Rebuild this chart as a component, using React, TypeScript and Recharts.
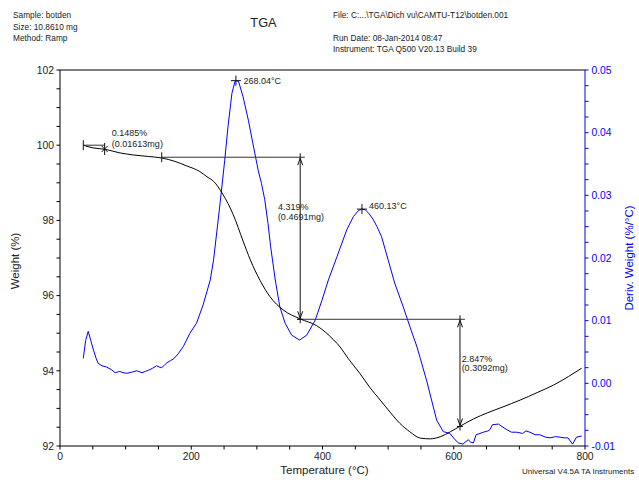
import React from 'react';
import { LineChart, Line, XAxis, YAxis, ReferenceLine, ReferenceDot } from 'recharts';

// ---- Weight (%) curve, black, left axis ----
const weightTemps = [35.5, 50, 69, 90, 112, 135, 155, 175, 193, 213, 224, 234, 248, 264, 279, 290, 305, 320, 340, 366, 391, 405, 417, 427, 439, 457, 472, 488, 503, 518, 533, 549, 564, 580, 595, 610, 630, 651, 675, 701, 727, 752, 775, 795];
const weightValues = [100.0, 99.93, 99.89, 99.8, 99.74, 99.7, 99.66, 99.57, 99.45, 99.3, 99.16, 99.04, 98.7, 98.15, 97.45, 96.95, 96.4, 95.97, 95.62, 95.38, 95.2, 95.02, 94.82, 94.63, 94.33, 93.93, 93.56, 93.22, 92.9, 92.6, 92.38, 92.21, 92.19, 92.25, 92.38, 92.53, 92.72, 92.88, 93.04, 93.22, 93.42, 93.62, 93.85, 94.07];

// ---- Deriv. Weight (%/°C) curve, blue, right axis ----
const derivTemps = [35.5, 39, 43, 47, 51, 55, 58, 64, 71, 78, 84, 91, 96, 102, 110, 117, 125, 130, 135, 141, 147, 151, 155, 159, 163, 168, 173, 180, 188, 198, 208, 218, 229, 234, 244, 251, 256, 262, 267, 272, 279, 287, 295, 302, 307, 312, 317, 321, 328, 335, 343, 353, 365, 376, 389, 399, 409, 422, 437, 447, 455, 460, 465, 470, 477, 483, 490, 500, 510, 523, 533, 544, 549, 559, 574, 584, 594, 602, 607, 614, 622, 626, 630, 634, 640, 645, 652, 655, 659, 668, 675, 681, 688, 696, 705, 710, 716, 724, 731, 740, 747, 755, 762, 768, 774, 781, 787, 795];
const derivValues = [0.004, 0.0068, 0.0083, 0.0068, 0.0053, 0.004, 0.0032, 0.0028, 0.0026, 0.0022, 0.0017, 0.0019, 0.0017, 0.0016, 0.0018, 0.002, 0.0017, 0.0019, 0.0021, 0.0024, 0.0028, 0.0026, 0.0025, 0.0029, 0.0033, 0.0036, 0.0039, 0.0047, 0.0059, 0.008, 0.0096, 0.0125, 0.0165, 0.0197, 0.0288, 0.0356, 0.041, 0.0463, 0.0483, 0.0482, 0.0457, 0.042, 0.0377, 0.034, 0.0319, 0.0293, 0.0255, 0.0218, 0.0165, 0.0122, 0.0096, 0.0077, 0.0069, 0.0077, 0.0101, 0.0132, 0.0165, 0.0202, 0.0245, 0.0266, 0.0276, 0.0278, 0.0277, 0.0272, 0.0262, 0.025, 0.0234, 0.0197, 0.016, 0.0122, 0.0091, 0.0058, 0.004, 0.0003, -0.0059, -0.0077, -0.008, -0.009, -0.0095, -0.0097, -0.009, -0.0094, -0.0095, -0.0082, -0.008, -0.0078, -0.0076, -0.0074, -0.0066, -0.0065, -0.007, -0.0074, -0.0078, -0.0078, -0.008, -0.0076, -0.0078, -0.0082, -0.0082, -0.0086, -0.0087, -0.0085, -0.0086, -0.0087, -0.0087, -0.0097, -0.0086, -0.0084];

// ---- Axes ticks ----
const tempTicks = [0, 50, 100, 150, 200, 250, 300, 350, 400, 450, 500, 550, 600, 650, 700, 750, 800];
const tempTickLabels = [0, 200, 400, 600, 800];
const weightTicks = [92, 92.5, 93, 93.5, 94, 94.5, 95, 95.5, 96, 96.5, 97, 97.5, 98, 98.5, 99, 99.5, 100, 100.5, 101, 101.5, 102];
const weightTickLabels = [92, 94, 96, 98, 100, 102];
const derivTicks = [-0.01, -0.0075, -0.005, -0.0025, 0, 0.0025, 0.005, 0.0075, 0.01, 0.0125, 0.015, 0.0175, 0.02, 0.0225, 0.025, 0.0275, 0.03, 0.0325, 0.035, 0.0375, 0.04, 0.0425, 0.045, 0.0475, 0.05];
const derivTickLabels = ['-0.01', '0.00', '0.01', '0.02', '0.03', '0.04', '0.05'];

// ---- Analysis annotations (data coordinates) ----
const step0 = { start: 35.5, end: 68, level: 100.0, pct: '0.1485%', mass: '(0.01613mg)', textT: 79, textW1: 100.32, textW2: 100.03 };
const step1 = { start: 155, end: 373, at: 366, top: 99.68, bottom: 95.37, pct: '4.319%', mass: '(0.4691mg)', textT: 332, textW1: 98.36, textW2: 98.09 };
const step2 = { start: 361, end: 617, at: 609.5, top: 95.37, bottom: 92.52, pct: '2.847%', mass: '(0.3092mg)', textT: 612, textW1: 94.33, textW2: 94.07 };
const peaks = [
  { t: 268.04, v: 0.0483, label: '268.04°C', textT: 279.5, textV: 0.0483 },
  { t: 460.13, v: 0.0278, label: '460.13°C', textT: 471, textV: 0.02835 },
];

const weightData = weightTemps.map((t, i) => ({ t, w: weightValues[i] }));
const derivData = derivTemps.map((t, i) => ({ t, d: derivValues[i] }));

const FONT = '"Liberation Sans", Arial, Helvetica, sans-serif';
const BLUE = '#0000ff';

const XTick = (props: any) => {
  const { x, y, payload } = props;
  const show = tempTickLabels.includes(payload.value);
  return (
    <g>
      <line x1={x} x2={x} y1={y} y2={y + 3.5} stroke="#000" />
      {show && (
        <text x={x} y={y + 14} textAnchor="middle" fontSize={10.3} fontFamily={FONT} fill="#222">
          {payload.value}
        </text>
      )}
    </g>
  );
};

const LeftTick = (props: any) => {
  const { x, y, payload } = props;
  const show = weightTickLabels.includes(payload.value);
  return (
    <g>
      <line x1={x - 3.5} x2={x} y1={y} y2={y} stroke="#000" />
      {show && (
        <text x={x - 6} y={y} dy="0.36em" textAnchor="end" fontSize={10.3} fontFamily={FONT} fill="#222">
          {payload.value}
        </text>
      )}
    </g>
  );
};

const RightTick = (props: any) => {
  const { x, y, payload } = props;
  const txt = (payload.value as number).toFixed(2);
  const major = Math.abs(payload.value * 100 - Math.round(payload.value * 100)) < 1e-6;
  return (
    <g>
      <line x1={x} x2={x + 3.5} y1={y} y2={y} stroke={BLUE} />
      {major && derivTickLabels.includes(txt) && (
        <text x={x + 6.5} y={y} dy="0.36em" textAnchor="start" fontSize={10.3} fontFamily={FONT} fill={BLUE}>
          {txt}
        </text>
      )}
    </g>
  );
};

const textShape = (text: string, color = '#222') => (p: any) => (
  <text x={p.cx} y={p.cy} dy="0.36em" fontSize={9} fontFamily={FONT} fill={color}>
    {text}
  </text>
);

const crossShape = (p: any) => (
  <g stroke="#111" strokeWidth={1}>
    <line x1={p.cx - 5} x2={p.cx + 5} y1={p.cy} y2={p.cy} />
    <line x1={p.cx} x2={p.cx} y1={p.cy - 5} y2={p.cy + 5} />
  </g>
);

const vTickShape = (p: any) => (
  <g stroke="#111" strokeWidth={1}>
    <line x1={p.cx} x2={p.cx} y1={p.cy - 5} y2={p.cy + 5} />
  </g>
);

const starShape = (p: any) => (
  <g stroke="#111" strokeWidth={1}>
    <line x1={p.cx} x2={p.cx} y1={p.cy - 6} y2={p.cy + 6} />
    <line x1={p.cx - 3} x2={p.cx + 3} y1={p.cy - 3} y2={p.cy + 3} />
    <line x1={p.cx - 3} x2={p.cx + 3} y1={p.cy + 3} y2={p.cy - 3} />
  </g>
);

const arrowUp = (p: any) => (
  <g stroke="#111" strokeWidth={1} fill="none">
    <polyline points={`${p.cx - 2.5},${p.cy + 8} ${p.cx},${p.cy + 1} ${p.cx + 2.5},${p.cy + 8}`} />
    <line x1={p.cx} x2={p.cx} y1={p.cy - 4} y2={p.cy} />
  </g>
);

const arrowDown = (p: any) => (
  <g stroke="#111" strokeWidth={1} fill="none">
    <polyline points={`${p.cx - 2.5},${p.cy - 8} ${p.cx},${p.cy - 1} ${p.cx + 2.5},${p.cy - 8}`} />
    <line x1={p.cx} x2={p.cx} y1={p.cy} y2={p.cy + 4} />
    <line x1={p.cx - 3} x2={p.cx + 3} y1={p.cy} y2={p.cy} />
  </g>
);

const leftTitle = (p: any) => {
  const vb = p.viewBox;
  const cx = vb.x + 19;
  const cy = vb.y + vb.height / 2 + 3;
  return (
    <text x={cx} y={cy} transform={`rotate(-90, ${cx}, ${cy})`} textAnchor="middle" fontSize={11.5} fontFamily={FONT} fill="#222">
      Weight (%)
    </text>
  );
};

const rightTitle = (p: any) => {
  const vb = p.viewBox;
  const cx = vb.x + 48;
  const cy = vb.y + vb.height / 2;
  return (
    <text x={cx} y={cy} transform={`rotate(-90, ${cx}, ${cy})`} textAnchor="middle" fontSize={11.5} fontFamily={FONT} fill={BLUE}>
      Deriv. Weight (%/°C)
    </text>
  );
};

const bottomTitle = (p: any) => {
  const vb = p.viewBox;
  return (
    <text x={vb.x + vb.width / 2 + 2} y={vb.y + vb.height - 6} textAnchor="middle" fontSize={11.5} fontFamily={FONT} fill="#222">
      Temperature (°C)
    </text>
  );
};

export default function App() {
  const hdr = { fontSize: 8.3, fontFamily: FONT, fill: '#222' } as const;
  return (
    <div style={{ position: 'absolute', left: 0, top: 0, width: 639, height: 480, background: '#fff', overflow: 'hidden' }}>
      <LineChart width={639} height={480} margin={{ top: 70, right: 0, bottom: 0, left: 0 }}>
        <XAxis
          xAxisId="x"
          type="number"
          dataKey="t"
          domain={[0, 800]}
          ticks={tempTicks}
          interval={0}
          height={34}
          tickSize={0}
          tickMargin={0}
          tickLine={false}
          tick={<XTick />}
          axisLine={{ stroke: '#000' }}
          allowDataOverflow
          label={{ content: bottomTitle }}
        />
        <YAxis
          yAxisId="left"
          orientation="left"
          type="number"
          domain={[92, 102]}
          ticks={weightTicks}
          interval={0}
          width={60}
          tickSize={0}
          tickMargin={0}
          tickLine={false}
          tick={<LeftTick />}
          axisLine={{ stroke: '#000' }}
          allowDataOverflow
          label={{ content: leftTitle }}
        />
        <YAxis
          yAxisId="right"
          orientation="right"
          type="number"
          domain={[-0.01, 0.05]}
          ticks={derivTicks}
          interval={0}
          width={54}
          tickSize={0}
          tickMargin={0}
          tickLine={false}
          tick={<RightTick />}
          axisLine={{ stroke: BLUE }}
          allowDataOverflow
          label={{ content: rightTitle }}
        />
        <ReferenceLine xAxisId="x" yAxisId="left" y={102} stroke="#000" />

        <Line
          xAxisId="x"
          yAxisId="right"
          data={derivData}
          dataKey="d"
          type="linear"
          stroke={BLUE}
          strokeWidth={1}
          dot={false}
          activeDot={false}
          isAnimationActive={false}
        />
        <Line
          xAxisId="x"
          yAxisId="left"
          data={weightData}
          dataKey="w"
          type="monotone"
          stroke="#000"
          strokeWidth={1}
          dot={false}
          activeDot={false}
          isAnimationActive={false}
        />

        {/* step 0 */}
        <ReferenceLine xAxisId="x" yAxisId="left" segment={[{ x: step0.start, y: step0.level }, { x: step0.end, y: step0.level }]} stroke="#333" ifOverflow="visible" />
        <ReferenceDot xAxisId="x" yAxisId="left" x={step0.start} y={step0.level} r={1} shape={vTickShape} ifOverflow="visible" />
        <ReferenceDot xAxisId="x" yAxisId="left" x={step0.end} y={99.9} r={1} shape={starShape} ifOverflow="visible" />
        <ReferenceDot xAxisId="x" yAxisId="left" x={step0.textT} y={step0.textW1} r={1} shape={textShape(step0.pct)} ifOverflow="visible" />
        <ReferenceDot xAxisId="x" yAxisId="left" x={step0.textT} y={step0.textW2} r={1} shape={textShape(step0.mass)} ifOverflow="visible" />

        {/* step 1 */}
        <ReferenceLine xAxisId="x" yAxisId="left" segment={[{ x: step1.start, y: step1.top }, { x: step1.end, y: step1.top }]} stroke="#333" ifOverflow="visible" />
        <ReferenceLine xAxisId="x" yAxisId="left" segment={[{ x: step1.at, y: step1.top }, { x: step1.at, y: step1.bottom }]} stroke="#111" ifOverflow="visible" />
        <ReferenceDot xAxisId="x" yAxisId="left" x={step1.start} y={step1.top} r={1} shape={vTickShape} ifOverflow="visible" />
        <ReferenceDot xAxisId="x" yAxisId="left" x={step1.at} y={step1.top} r={1} shape={arrowUp} ifOverflow="visible" />
        <ReferenceDot xAxisId="x" yAxisId="left" x={step1.at} y={step1.bottom} r={1} shape={arrowDown} ifOverflow="visible" />
        <ReferenceDot xAxisId="x" yAxisId="left" x={step1.textT} y={step1.textW1} r={1} shape={textShape(step1.pct)} ifOverflow="visible" />
        <ReferenceDot xAxisId="x" yAxisId="left" x={step1.textT} y={step1.textW2} r={1} shape={textShape(step1.mass)} ifOverflow="visible" />

        {/* step 2 */}
        <ReferenceLine xAxisId="x" yAxisId="left" segment={[{ x: step2.start, y: step2.top }, { x: step2.end, y: step2.top }]} stroke="#333" ifOverflow="visible" />
        <ReferenceLine xAxisId="x" yAxisId="left" segment={[{ x: step2.at, y: step2.top }, { x: step2.at, y: step2.bottom }]} stroke="#111" ifOverflow="visible" />
        <ReferenceDot xAxisId="x" yAxisId="left" x={step2.at} y={step2.top} r={1} shape={arrowUp} ifOverflow="visible" />
        <ReferenceDot xAxisId="x" yAxisId="left" x={step2.at} y={step2.bottom} r={1} shape={arrowDown} ifOverflow="visible" />
        <ReferenceDot xAxisId="x" yAxisId="left" x={step2.textT} y={step2.textW1} r={1} shape={textShape(step2.pct)} ifOverflow="visible" />
        <ReferenceDot xAxisId="x" yAxisId="left" x={step2.textT} y={step2.textW2} r={1} shape={textShape(step2.mass)} ifOverflow="visible" />

        {/* peaks */}
        {peaks.map((pk) => (
          <ReferenceDot key={pk.label + 'c'} xAxisId="x" yAxisId="right" x={pk.t} y={pk.v} r={1} shape={crossShape} ifOverflow="visible" />
        ))}
        {peaks.map((pk) => (
          <ReferenceDot key={pk.label + 't'} xAxisId="x" yAxisId="right" x={pk.textT} y={pk.textV} r={1} shape={textShape(pk.label)} ifOverflow="visible" />
        ))}
      </LineChart>

      <svg width={639} height={480} style={{ position: 'absolute', left: 0, top: 0, pointerEvents: 'none' }}>
        <text x={13} y={18.3} {...hdr}>Sample: botden</text>
        <text x={13} y={29.8} {...hdr}>Size:  10.8610 mg</text>
        <text x={13} y={41} {...hdr}>Method: Ramp</text>
        <text x={263.5} y={26.5} textAnchor="middle" fontSize={12.8} fontFamily={FONT} fill="#222">TGA</text>
        <text x={333} y={18.3} {...hdr}>File: C:...\TGA\Dich vu\CAMTU-T12\botden.001</text>
        <text x={333} y={41} {...hdr}>Run Date: 08-Jan-2014 08:47</text>
        <text x={333} y={52.3} {...hdr}>Instrument: TGA Q500 V20.13 Build 39</text>
        <text x={522} y={473.5} fontSize={8} fontFamily={FONT} fill="#222">Universal V4.5A TA Instruments</text>
      </svg>
    </div>
  );
}
